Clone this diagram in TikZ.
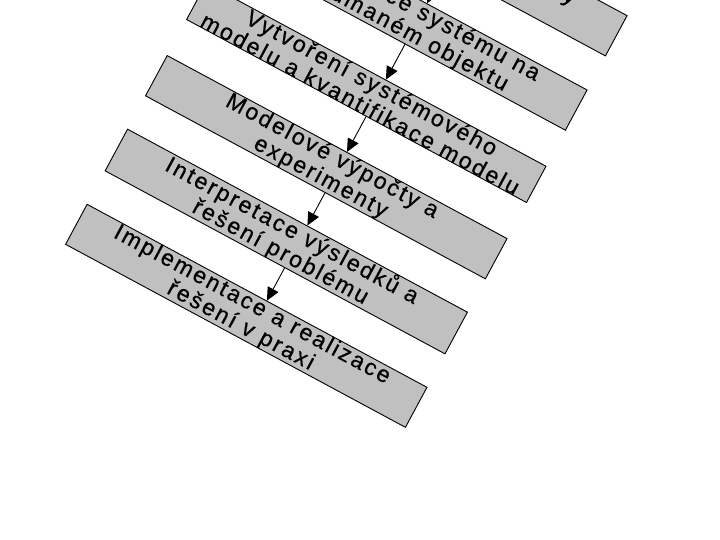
\documentclass[tikz,border=0pt]{standalone}
\usepackage{fontspec}
\setmainfont{Liberation Sans}
\newfontfamily\stagefont[LetterSpace=10,FakeBold=0.6]{Liberation Sans}
\definecolor{boxgray}{HTML}{C0C0C0}
\usetikzlibrary{arrows.meta, calc}
\tikzset{
  stage/.style={
    draw=black, fill=boxgray, line width=0.9pt,
    minimum width=386pt, minimum height=41pt, inner sep=0pt,
    font=\stagefont\fontsize{23}{24}\selectfont,
    text=black, align=center
  },
  arr/.style={-{Triangle[length=13pt,width=12pt]}, line width=0.9pt},
}

\begin{document}
\begin{tikzpicture}[x=1pt, y=1pt]
  \useasboundingbox (0,0) rectangle (720,-540);
  \clip (0,0) rectangle (720,-540);
  \begin{scope}[shift={(366.3,-92.9)}, rotate=-28.3, every node/.style={transform shape}]
    \node[stage] (form) at (0,168.8) {Formulace cíle analýzy\\a problému};
    \node[stage] (ident) at (0,84.4) {Identifikace systému na\\zkoumaném objektu};
    \node[stage] (model) at (0,0) {Vytvoření systémového\\modelu a kvantifikace modelu};
    \node[stage] (calc) at (0,-84.4) {Modelové výpočty a\\experimenty};
    \node[stage] (interp) at (0,-168.8) {Interpretace výsledků a\\řešení problému};
    \node[stage] (impl) at (0,-253.2) {Implementace a realizace\\řešení v praxi};

    \foreach \a/\b in {form/ident, ident/model, model/calc, calc/interp, interp/impl}
      \draw[arr] ($(\a.south)!11pt!(\a.south east)$) -- ($(\b.north)!11pt!(\b.north east)$);
  \end{scope}
\end{tikzpicture}
\end{document}
